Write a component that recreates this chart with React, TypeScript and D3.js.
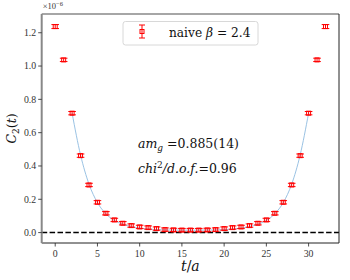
import React from "react";
import * as d3 from "d3";

const tValues = d3.range(0, 33);
const corrValues = [1.237, 1.037, 0.717, 0.462, 0.286, 0.182, 0.116, 0.076, 0.056, 0.042, 0.034, 0.030, 0.024, 0.018, 0.016, 0.015, 0.015, 0.015, 0.016, 0.018, 0.024, 0.030, 0.034, 0.042, 0.056, 0.076, 0.116, 0.182, 0.286, 0.462, 0.717, 1.037, 1.237];
const corrErrors = [0.012, 0.01, 0.01, 0.01, 0.01, 0.01, 0.01, 0.01, 0.01, 0.01, 0.01, 0.01, 0.01, 0.01, 0.01, 0.01, 0.01, 0.01, 0.01, 0.01, 0.01, 0.01, 0.01, 0.01, 0.01, 0.01, 0.01, 0.01, 0.01, 0.01, 0.01, 0.01, 0.012];
const fitT = d3.range(2, 31);
const fitValues = [0.717, 0.466, 0.291, 0.180, 0.113, 0.073, 0.050, 0.036, 0.027, 0.021, 0.018, 0.016, 0.015, 0.0145, 0.0144, 0.0145, 0.015, 0.016, 0.018, 0.021, 0.027, 0.036, 0.050, 0.073, 0.113, 0.180, 0.291, 0.466, 0.717];
const xTicks = [0, 5, 10, 15, 20, 25, 30];
const yTicks = [0, 0.2, 0.4, 0.6, 0.8, 1.0, 1.2];
const legendLabel = "naive";
const massText = "0.885(14)";
const chiText = "0.96";

const W = 350, H = 280;
const L = 41.7, R = 339, T = 14, B = 243;
const serif = "DejaVu Serif";
const tickFont = "Liberation Serif";

export default function App() {
  const x = d3.scaleLinear().domain([-1.6, 33.6]).range([L, R]);
  const y = d3.scaleLinear().domain([-0.0625, 1.3125]).range([B, T]);
  const line = d3.line<number>().x((_, i) => x(fitT[i])).y((d) => y(d)).curve(d3.curveMonotoneX);
  const red = "#ff0000";
  const f = { fontFamily: serif };
  const tf = { fontFamily: tickFont };
  return (
    <svg width={W} height={H} style={{ position: "absolute", left: 0, top: 0 }}>
      <rect width={W} height={H} fill="#fff" />
      <line x1={L} x2={R} y1={y(0)} y2={y(0)} stroke="#000" strokeWidth={1.5} strokeDasharray="5.5,2.4" />
      <path d={line(fitValues) || ""} fill="none" stroke="#8fbbe0" strokeWidth={0.9} />
      {tValues.map((t, i) => {
        const cx = x(t), cy = y(corrValues[i]);
        const y1 = y(corrValues[i] + corrErrors[i]);
        const y2 = y(corrValues[i] - corrErrors[i]);
        return (
          <g key={t} stroke={red} fill="none">
            <line x1={cx} x2={cx} y1={y1} y2={y2} strokeWidth={1} />
            <line x1={cx - 3.8} x2={cx + 3.8} y1={y1} y2={y1} strokeWidth={1} />
            <line x1={cx - 3.8} x2={cx + 3.8} y1={y2} y2={y2} strokeWidth={1} />
            <rect x={cx - 2} y={cy - 2} width={4} height={4} strokeWidth={1} />
          </g>
        );
      })}
      <line x1={L} x2={R} y1={T} y2={T} stroke="#888" strokeWidth={1.5} />
      <line x1={R} x2={R} y1={T} y2={B} stroke="#222" strokeWidth={1} />
      <line x1={L} x2={R} y1={B} y2={B} stroke="#222" strokeWidth={1} />
      <line x1={L} x2={L} y1={T} y2={B} stroke="#888" strokeWidth={2} />
      {yTicks.map((v) => (
        <g key={v}>
          <line x1={L - 3.5} x2={L} y1={y(v)} y2={y(v)} stroke="#222" strokeWidth={0.8} />
          <text style={tf} x={L - 5.5} y={y(v) + 3.3} textAnchor="end" fontSize={9.8} fill="#333">{v.toFixed(1)}</text>
        </g>
      ))}
      {xTicks.map((v) => (
        <g key={v}>
          <line x1={x(v)} x2={x(v)} y1={B} y2={B + 3.5} stroke="#222" strokeWidth={0.8} />
          <text style={tf} x={x(v)} y={B + 13.5} textAnchor="middle" fontSize={9.8} fill="#333">{v}</text>
        </g>
      ))}
      <text style={tf} x={L + 1} y={9} fontSize={8.5} fill="#333">×10<tspan dy={-3.5} fontSize={6.5}>−6</tspan></text>
      <text style={f} x={x(16)} y={271} textAnchor="middle" fontSize={14} fontStyle="italic" fill="#111">t<tspan fontStyle="normal">/</tspan>a</text>
      <text style={f} transform={`translate(15.5,${(T + B) / 2}) rotate(-90)`} textAnchor="middle" fontSize={12.5} fill="#111">
        <tspan fontStyle="italic">C</tspan><tspan fontSize={9} dy={3}>2</tspan><tspan dy={-3}>(</tspan><tspan fontStyle="italic">t</tspan>)
      </text>
      <rect x={123} y={21.5} width={135} height={23.5} rx={2.5} fill="#fff" stroke="#d8d8d8" strokeWidth={1} />
      <g stroke={red} fill="none">
        <line x1={142} x2={142} y1={25} y2={38} strokeWidth={1} />
        <line x1={139} x2={145} y1={25} y2={25} strokeWidth={1} />
        <line x1={139} x2={145} y1={38} y2={38} strokeWidth={1} />
        <rect x={140} y={29.5} width={4} height={4} strokeWidth={1} />
      </g>
      <text style={f} x={169} y={37} fontSize={12.2} fill="#111">{legendLabel} <tspan fontStyle="italic">β</tspan> = 2.4</text>
      <text style={f} x={138} y={148} fontSize={12.5} fill="#111"><tspan fontStyle="italic">am</tspan><tspan fontStyle="italic" fontSize={9} dy={2.5}>g</tspan><tspan dy={-2.5}> =</tspan>{massText}</text>
      <text style={f} x={138} y={173} fontSize={12.5} fill="#111"><tspan fontStyle="italic">chi</tspan><tspan fontSize={9} dy={-5}>2</tspan><tspan dy={5} fontStyle="italic">/d.o.f.</tspan>={chiText}</text>
    </svg>
  );
}
